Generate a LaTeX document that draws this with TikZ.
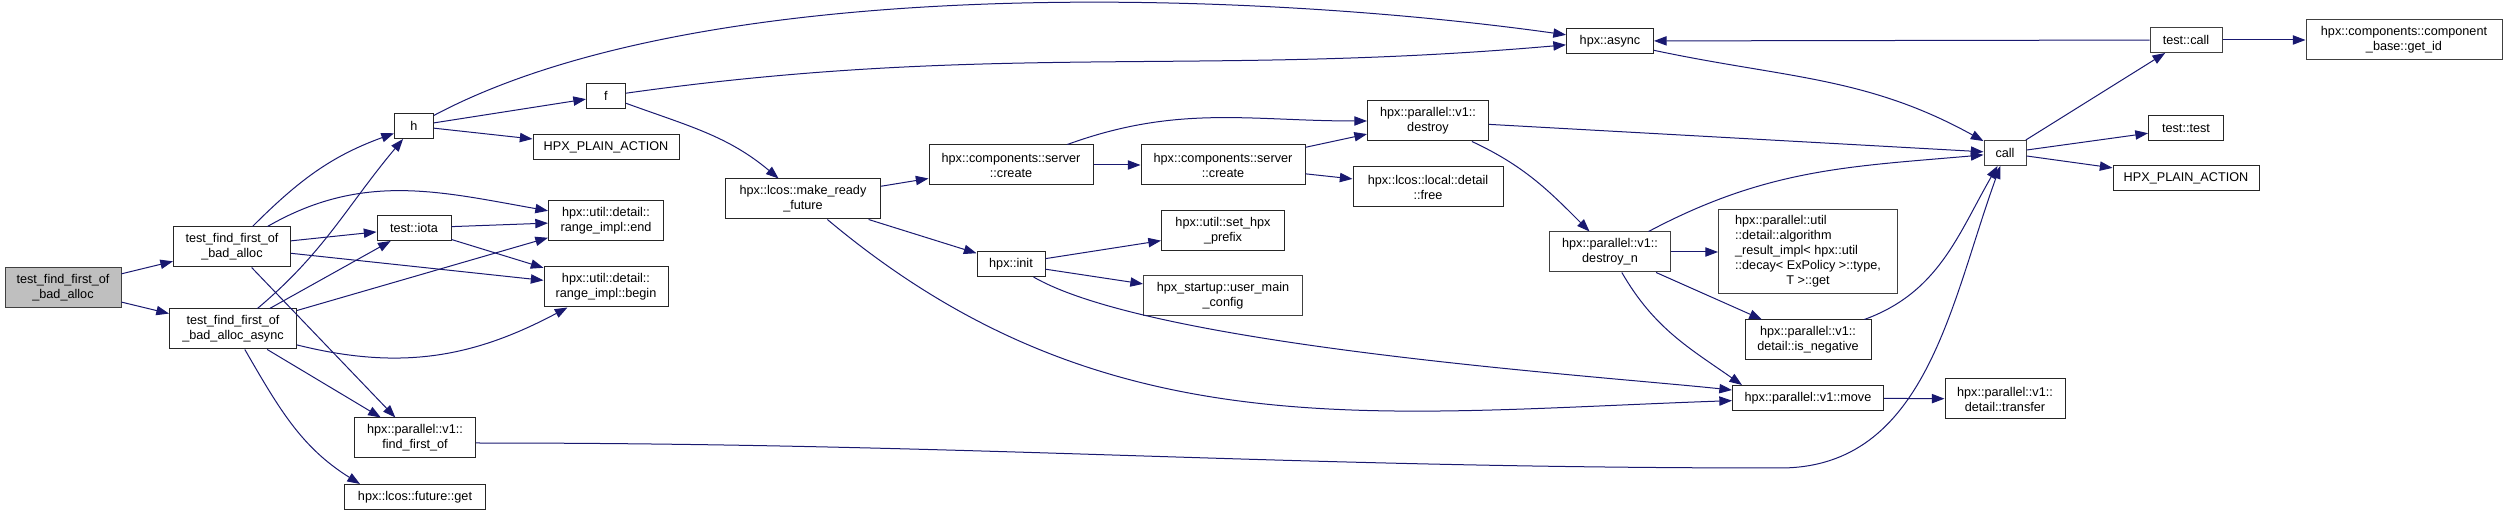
\documentclass[tikz,border=0pt]{standalone}
\usepackage{fontspec}
\setmainfont{Liberation Sans}
\usepackage{tikz}
\usetikzlibrary{arrows.meta}
\definecolor{edgeblue}{HTML}{191970}
\definecolor{rootgray}{HTML}{BFBFBF}
\definecolor{framegray}{HTML}{404040}

\begin{document}
\begin{tikzpicture}[x=0.75pt,y=-0.75pt,>={Triangle[length=9.5pt,width=7pt]}]
      \tikzset{fn/.style={draw=black!85, fill=white, line width=0.75pt, inner sep=0pt,
          minimum height=18.75pt, align=center, font=\fontsize{9.5}{11.25}\selectfont}}
      \tikzset{fnx/.style={fn, draw=framegray}}
      \tikzset{two/.style={minimum height=30pt}}
      \tikzset{every edge/.style={draw=edgeblue, line width=0.75pt}}
      \useasboundingbox (0,0) rectangle (2507,516);
      % callers
      \node[fnx,two,fill=rootgray,minimum width=87pt] (root) at (63,288) {test\_find\_first\_of\\\_bad\_alloc};
      \node[fn,two,minimum width=87.75pt] (tffo) at (232,247) {test\_find\_first\_of\\\_bad\_alloc};
      \node[fn,two,minimum width=95.25pt] (tffoa) at (233,329) {test\_find\_first\_of\\\_bad\_alloc\_async};
      % second column
      \node[fn,minimum width=29.25pt] (h) at (414,126) {h};
      \node[fn,minimum width=55.5pt] (iota) at (414,228) {test::iota};
      \node[fn,two,minimum width=90.75pt] (ffo) at (415,438) {hpx::parallel::v1::\\find\_first\_of};
      \node[fn,minimum width=105.75pt] (fget) at (415,497) {hpx::lcos::future::get};
      \node[fn,minimum width=29.25pt] (f) at (606,96) {f};
      \node[fn,minimum width=109.5pt] (plain) at (606,147) {HPX\_PLAIN\_ACTION};
      \node[fn,two,minimum width=86.25pt] (rend) at (606,221) {hpx::util::detail::\\range\_impl::end};
      \node[fn,two,minimum width=93pt] (rbegin) at (606,287) {hpx::util::detail::\\range\_impl::begin};
      \node[fn,two,minimum width=116.25pt] (mrf) at (803,199) {hpx::lcos::make\_ready\\\_future};
      % middle
      \node[fn,two,minimum width=123pt] (create) at (1011,165) {hpx::components::server\\::create};
      \node[fn,minimum width=51pt] (init) at (1011,264) {hpx::init};
      \node[fn,two,minimum width=123pt] (screate) at (1223,165) {hpx::components::server\\::create};
      \node[fn,two,minimum width=92.25pt] (prefix) at (1223,231) {hpx::util::set\_hpx\\\_prefix};
      \node[fnx,two,minimum width=119.25pt] (umc) at (1223,296) {hpx\_startup::user\_main\\\_config};
      \node[fn,two,minimum width=90.75pt] (destroy) at (1428,121) {hpx::parallel::v1::\\destroy};
      \node[fn,two,minimum width=112.5pt] (free) at (1428,187) {hpx::lcos::local::detail\\::free};
      \node[fn,minimum width=65.25pt] (async) at (1610,41) {hpx::async};
      \node[fnx,two,minimum width=90.75pt] (destroyn) at (1610,252) {hpx::parallel::v1::\\destroy\_n};
      % right part
      \node[fnx,minimum width=31.5pt] (call) at (2005,153) {call};
      \node[fnx,minimum width=134.25pt,minimum height=63pt] (algo) at (1808,252) {\begin{tabular}{@{}l@{}}hpx::parallel::util\\::detail::algorithm\\\_result\_impl< hpx::util\\::decay< ExPolicy >::type,\\\multicolumn{1}{@{}c@{}}{T >::get}\end{tabular}};
      \node[fn,two,minimum width=94.5pt] (isneg) at (1808,340) {hpx::parallel::v1::\\detail::is\_negative};
      \node[fn,minimum width=113.25pt] (move) at (1808,398) {hpx::parallel::v1::move};
      \node[fn,two,minimum width=90pt] (transfer) at (2005,399) {hpx::parallel::v1::\\detail::transfer};
      \node[fnx,minimum width=54pt] (tcall) at (2186,40) {test::call};
      \node[fnx,two,minimum width=147pt] (getid) at (2404,40) {hpx::components::component\\\_base::get\_id};
      \node[fn,minimum width=56.25pt] (ttest) at (2186,128) {test::test};
      \node[fn,minimum width=109.5pt] (plaintwo) at (2186,178) {HPX\_PLAIN\_ACTION};
      \coordinate (ffobend) at (1780,468);

      \path[->] (root) edge (tffo) edge (tffoa);
      \path[->] (tffo) edge[out=45,in=200] (h)
            edge[out=30,in=170] (rend)
            edge (iota)
            edge (rbegin)
            edge (ffo);
      \path[->] (tffoa) edge[out=40,in=230] (h)
            edge (iota)
            edge (rend)
            edge[out=-14,in=208] (rbegin)
            edge (ffo)
            edge[out=-60,in=148] ([xshift=12pt]fget.north west);
      \path[->] (iota) edge (rend) edge (rbegin);
      \path[->] (h) edge[out=28,in=172,looseness=0.7] (async)
            edge (f)
            edge (plain);
      \path[->] (f) edge[out=8,in=185] (async)
            edge[out=-20,in=140] (mrf);
      \path[->] (mrf) edge (create)
            edge (init)
            edge[out=-40,in=182] (move);
      \path[->] (create) edge[out=20,in=180] (destroy)
            edge (screate);
      \path[->] (screate) edge (destroy) edge (free);
      \path[->] (init) edge (prefix)
            edge (umc)
            edge[out=-30,in=174,looseness=0.5] (move);
      \path[->] (destroy) edge (call)
            edge[out=-25,in=135] (destroyn);
      \path[->] (async) edge[out=-12,in=151] (call);
      \path[->] (destroyn) edge[out=28,in=185] (call)
            edge (algo)
            edge (isneg)
            edge[out=-60,in=145] ([xshift=7.5pt]move.north west);
      \path[->] (isneg) edge[out=20,in=240] (call);
      \draw[->,draw=edgeblue,line width=0.75pt] ([yshift=-3.75pt]ffo.east) to[out=0,in=180] (ffobend) to[out=0,in=250] (call);
      \path[->] (move) edge (transfer);
      \path[->] (call) edge (tcall) edge (ttest) edge (plaintwo);
      \path[->] (tcall) edge (async) edge (getid);
\end{tikzpicture}
\end{document}
